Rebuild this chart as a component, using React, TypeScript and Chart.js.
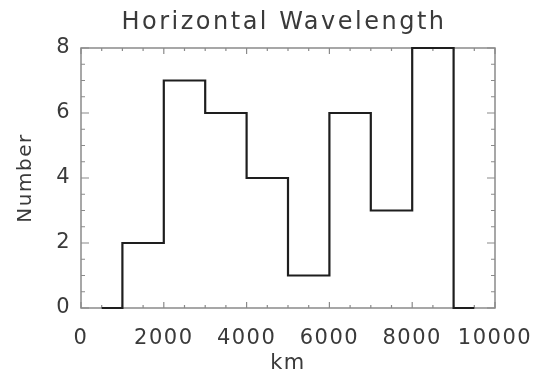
import { useEffect, useRef } from "react";
import { Chart, registerables } from "chart.js";

Chart.register(...registerables);

// Histogram of horizontal wavelengths (km): left edge of each bin and its count
const binStarts = [500, 1000, 2000, 3000, 4000, 5000, 6000, 7000, 8000, 9000];
const binEnd = 9500;
const counts = [0, 2, 7, 6, 4, 1, 6, 3, 8, 0];

const xTicks = [0, 2000, 4000, 6000, 8000, 10000];
const yTicks = [0, 2, 4, 6, 8];
const xMinorStep = 500;
const yMinorStep = 0.5;

const titleText = "Horizontal Wavelength";
const xLabel = "km";
const yLabel = "Number";

const FONT = "'DejaVu Sans', sans-serif";
const TEXT = "#3a3a3a";
const AXIS = "#8a8a8a";

// Draws the plot box with inward major/minor tick marks on all four sides
const frameAndTicks = {
  id: "frameAndTicks",
  beforeDraw(chart: any) {
    chart.ctx.letterSpacing = "1.5px";
  },
  beforeDatasetsDraw(chart: any) {
    const { ctx, chartArea: a } = chart;
    const xs = chart.scales.x;
    const ys = chart.scales.y;
    ctx.save();
    ctx.letterSpacing = "0px";
    ctx.strokeStyle = AXIS;
    ctx.lineWidth = 1.5;
    ctx.strokeRect(a.left, a.top, a.right - a.left, a.bottom - a.top);
    ctx.lineWidth = 1.2;
    ctx.beginPath();
    for (let v = xs.min; v <= xs.max + 1e-6; v += xMinorStep) {
      const px = xs.getPixelForValue(v);
      const len = xTicks.includes(v) ? 6 : 3;
      ctx.moveTo(px, a.bottom);
      ctx.lineTo(px, a.bottom - len);
      ctx.moveTo(px, a.top);
      ctx.lineTo(px, a.top + len);
    }
    for (let v = ys.min; v <= ys.max + 1e-6; v += yMinorStep) {
      const py = ys.getPixelForValue(v);
      const len = yTicks.includes(v) ? 8 : 4;
      ctx.moveTo(a.left, py);
      ctx.lineTo(a.left + len, py);
      ctx.moveTo(a.right, py);
      ctx.lineTo(a.right - len, py);
    }
    ctx.stroke();
    ctx.restore();
  },
  afterDraw(chart: any) {
    const { ctx } = chart;
    ctx.save();
    ctx.letterSpacing = "2.5px";
    ctx.fillStyle = TEXT;
    ctx.font = `24px ${FONT}`;
    ctx.textAlign = "center";
    ctx.textBaseline = "middle";
    ctx.fillText(titleText, 284, 23);
    ctx.restore();
  },
};

export default function App() {
  const ref = useRef<HTMLCanvasElement>(null);

  useEffect(() => {
    if (!ref.current) return;
    const points = binStarts.map((x, i) => ({ x, y: counts[i] }));
    points.push({ x: binEnd, y: 0 });

    const chart = new Chart(ref.current, {
      type: "line",
      data: {
        datasets: [
          {
            data: points,
            stepped: "before",
            borderColor: "#1e1e1e",
            borderWidth: 2.2,
            pointRadius: 0,
            fill: false,
            clip: false as any,
          },
        ],
      },
      options: {
        animation: false,
        responsive: false,
        events: [],
        layout: { padding: { top: 48, right: 39, left: 0, bottom: 0 } },
        plugins: { legend: { display: false }, tooltip: { enabled: false }, title: { display: false } },
        scales: {
          x: {
            type: "linear",
            min: 0,
            max: 10000,
            grid: { display: false },
            border: { display: false },
            afterBuildTicks: (s: any) => {
              s.ticks = xTicks.map((value) => ({ value }));
            },
            afterFit: (s: any) => {
              s.height = 70;
              s.paddingLeft = 0;
              s.paddingRight = 0;
            },
            ticks: {
              color: TEXT,
              font: { family: FONT, size: 21 },
              padding: 10,
              maxRotation: 0,
              autoSkip: false,
              callback: (v: any) => String(v),
            },
            title: {
              display: true,
              text: xLabel,
              color: TEXT,
              font: { family: FONT, size: 21 },
              padding: { top: 0, bottom: 2 },
            },
          },
          y: {
            type: "linear",
            min: 0,
            max: 8,
            grid: { display: false },
            border: { display: false },
            afterBuildTicks: (s: any) => {
              s.ticks = yTicks.map((value) => ({ value }));
            },
            afterFit: (s: any) => {
              s.width = 81;
            },
            ticks: {
              color: TEXT,
              font: { family: FONT, size: 21 },
              padding: 2,
              callback: (v: any) => String(v),
            },
            title: {
              display: true,
              text: yLabel,
              color: TEXT,
              font: { family: FONT, size: 20 },
              padding: { top: 14, bottom: 0 },
            },
          },
        },
      },
      plugins: [frameAndTicks],
    });
    return () => chart.destroy();
  }, []);

  return (
    <div style={{ position: "absolute", left: 0, top: 0, width: 534, height: 378, background: "#fff" }}>
      <canvas ref={ref} width={534} height={378} style={{ display: "block" }} />
    </div>
  );
}
